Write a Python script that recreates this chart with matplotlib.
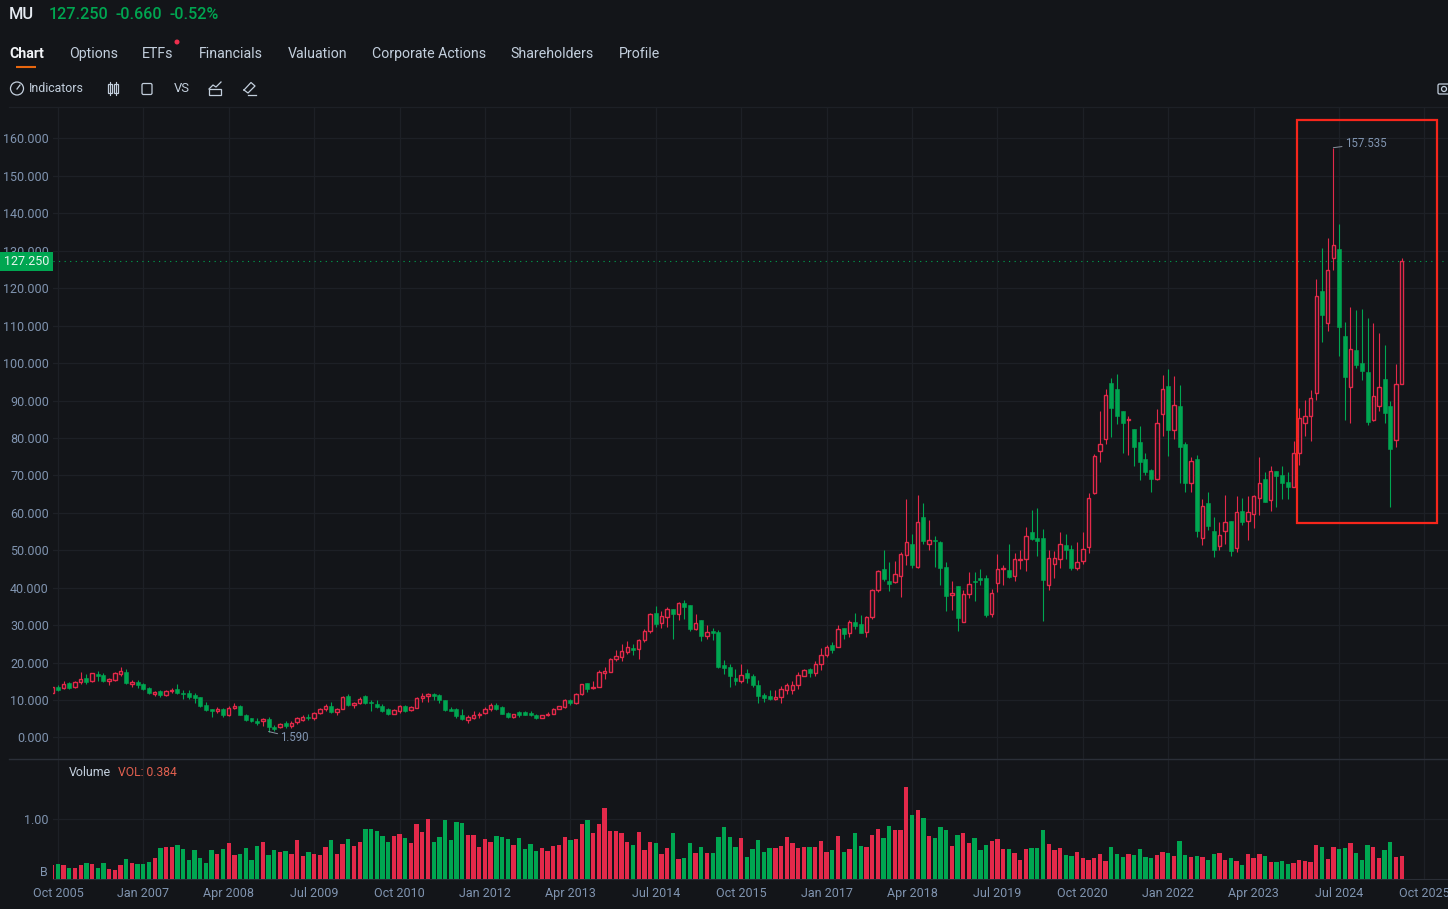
import matplotlib
matplotlib.use("Agg")
import matplotlib.pyplot as plt
import numpy as np
from matplotlib.patches import Rectangle, Circle, FancyBboxPatch

plt.rcParams['font.family'] = ['Roboto', 'DejaVu Sans']

# monthly candles, first one is Sep 2005
opens = [
    12.0,13.6,13.1,14.6,13.4,14.7,15.8,15.0,17.0,16.6,
    15.2,15.4,16.9,17.6,14.2,14.8,14.3,13.2,11.6,12.3,
    11.4,12.4,12.9,12.0,11.8,11.4,10.7,8.6,7.5,7.0,
    7.6,6.0,7.8,8.4,6.0,5.1,4.4,4.3,4.9,2.9,
    2.8,3.9,3.0,4.1,4.6,5.6,5.2,6.6,7.6,8.3,
    6.9,7.7,11.0,8.8,9.1,11.1,9.5,9.0,8.5,7.5,
    6.4,7.0,8.4,7.3,8.0,10.5,11.1,11.6,11.3,10.0,
    7.6,7.6,6.0,4.8,5.2,6.0,6.5,7.6,8.8,8.2,
    6.6,5.6,6.8,6.7,6.5,6.0,5.3,6.0,6.4,7.6,
    8.2,10.0,9.2,11.6,14.5,13.1,13.6,17.3,17.6,20.9,
    21.6,22.7,23.8,23.7,26.0,28.4,33.2,30.7,32.3,34.2,
    33.0,35.9,35.3,29.0,31.3,27.1,28.4,28.1,19.3,18.8,
    16.0,15.0,17.2,16.4,14.0,11.3,11.0,10.3,10.8,12.7,
    12.6,13.9,16.5,18.3,17.2,19.6,22.0,24.6,24.2,29.2,
    27.8,30.8,30.2,28.2,32.1,39.5,44.9,41.9,41.4,43.1,
    48.7,51.6,45.5,58.9,51.6,52.8,52.3,45.5,38.0,40.4,
    30.9,38.3,41.8,42.5,42.5,33.0,41.2,45.0,44.7,43.1,
    47.5,47.6,55.0,53.4,53.3,40.6,46.4,47.6,51.5,50.4,
    45.4,47.2,50.9,65.2,76.4,79.6,94.6,93.0,87.1,84.8,
    82.3,79.0,74.4,71.4,69.0,86.5,93.9,82.2,88.6,78.4,
    68.1,74.5,53.3,62.5,55.2,51.1,55.1,57.8,50.6,60.6,
    57.7,59.8,63.9,69.0,63.3,71.1,70.2,68.3,66.9,76.0,
    84.0,86.0,91.9,119.2,110.6,128.0,130.4,107.2,93.5,103.5,
    100.0,97.6,84.8,88.6,95.7,88.5,79.4,94.4]
closes = [
    13.4,12.8,14.4,13.2,14.8,15.6,14.7,17.1,16.4,15.1,
    15.7,17.3,17.8,14.5,14.8,14.0,13.0,11.9,12.2,11.4,
    12.3,12.8,11.9,11.5,10.7,10.6,8.3,7.3,7.2,7.7,
    5.9,7.9,8.4,6.0,4.7,4.4,4.0,4.9,2.8,2.2,
    3.7,3.1,4.0,5.1,5.4,5.2,6.5,7.6,8.3,6.8,
    7.7,10.8,8.7,9.2,10.3,9.2,9.1,8.2,7.0,6.2,
    7.3,8.3,7.0,8.2,10.6,11.1,11.5,11.2,10.0,7.3,
    7.1,5.8,4.9,5.6,6.0,6.3,7.6,8.6,7.7,6.3,
    5.5,6.2,6.0,6.1,6.0,5.2,6.0,6.4,7.6,8.4,
    10.0,9.2,11.6,14.2,13.0,13.6,17.4,17.8,21.0,21.8,
    23.0,24.1,23.5,26.0,28.5,33.0,30.3,32.5,34.2,33.0,
    35.9,34.8,29.0,30.6,27.0,28.3,28.0,18.7,18.5,16.4,
    15.0,16.7,15.8,14.1,11.0,10.6,10.4,10.8,12.9,14.0,
    14.0,16.6,18.0,17.2,19.7,22.1,24.3,23.3,29.1,27.6,
    30.8,29.7,28.0,32.1,39.4,44.4,42.3,41.1,43.7,48.9,
    52.3,46.0,57.6,52.4,52.8,52.4,45.3,37.8,38.7,31.8,
    38.2,41.0,41.4,42.0,32.6,38.7,45.1,45.4,42.8,47.6,
    47.8,53.9,53.0,52.4,42.0,48.0,48.0,51.6,50.0,45.4,
    47.0,50.4,64.0,75.1,78.3,91.5,88.0,86.0,84.0,85.0,
    77.5,73.6,70.8,69.0,84.0,93.0,82.2,88.8,77.7,68.1,
    73.8,55.2,61.8,56.4,50.0,54.1,57.6,49.9,60.2,57.6,
    60.3,64.4,68.1,62.9,71.3,69.9,67.9,66.8,76.1,85.3,
    85.8,90.7,117.8,112.9,124.9,131.5,109.7,96.2,103.7,99.6,
    97.8,84.2,91.2,93.6,86.8,77.0,94.4,127.25]
highs = [
    13.6,14.1,15.0,14.8,15.0,17.5,16.9,17.3,17.7,17.1,
    16.0,17.5,18.8,18.3,15.4,15.4,14.6,13.4,12.4,12.6,
    12.6,13.3,14.4,12.8,12.7,12.0,10.9,9.5,7.6,8.2,
    7.9,8.3,9.2,8.8,6.2,5.3,5.2,5.1,5.4,3.3,
    3.9,4.4,4.5,5.4,6.0,6.2,6.7,7.9,8.9,9.4,
    8.0,11.0,11.5,9.5,10.9,11.4,10.0,10.0,8.9,7.9,
    7.6,8.6,8.8,8.4,10.8,12.0,12.0,12.0,11.6,10.1,
    8.1,7.8,7.6,6.1,7.0,6.8,8.1,9.2,9.2,8.4,
    6.9,6.4,7.0,7.2,7.0,6.2,6.1,6.9,7.9,8.5,
    10.3,10.4,12.0,14.4,14.6,15.1,17.9,18.9,21.2,23.5,
    24.9,25.8,25.0,26.2,29.0,33.2,35.0,33.8,34.8,34.4,
    36.2,36.7,35.4,33.0,31.4,30.0,29.3,28.7,20.8,19.7,
    18.2,19.5,18.2,16.9,15.3,11.9,12.6,12.7,13.7,14.5,
    15.2,17.5,18.4,18.6,20.5,23.8,24.6,25.5,30.1,29.3,
    31.3,33.2,32.6,32.4,39.6,44.8,50.1,47.0,47.2,49.6,
    63.6,54.4,64.9,62.7,58.2,53.8,52.4,46.8,41.7,40.5,
    39.4,44.2,44.3,45.1,43.5,39.6,48.9,46.1,51.6,49.3,
    50.0,56.3,60.7,61.3,55.7,50.2,49.7,54.9,54.4,51.5,
    52.3,54.9,65.3,75.8,87.3,93.1,95.9,97.1,87.2,85.9,
    82.4,83.2,76.0,71.8,87.7,96.8,98.5,96.6,94.2,79.0,
    74.9,75.5,63.8,65.6,58.9,57.6,64.7,57.9,64.6,64.0,
    64.6,64.8,74.9,70.8,72.4,71.2,72.4,70.8,79.2,88.0,
    90.2,92.9,122.5,130.7,133.3,157.535,137.2,111.0,114.9,114.2,
    114.4,112.1,110.7,108.0,104.8,90.0,99.7,128.1]
lows = [
    11.9,12.3,12.9,13.0,13.3,14.4,14.2,14.9,15.0,14.7,
    13.9,15.0,16.5,14.2,13.4,13.1,12.7,11.7,11.0,10.9,
    11.1,11.9,11.7,10.2,10.3,9.3,8.1,7.1,5.5,6.6,
    5.5,5.7,7.6,6.0,4.3,4.2,3.4,3.2,1.59,1.8,
    2.5,2.6,2.6,3.7,4.4,4.7,4.6,6.4,7.2,6.6,
    5.9,7.6,8.5,7.9,9.0,9.0,7.2,8.0,6.9,6.0,
    6.2,6.5,6.9,7.0,7.9,9.6,9.4,10.0,9.3,7.2,
    7.0,5.1,4.8,3.8,5.0,5.1,6.3,7.2,7.4,6.2,
    5.3,5.1,5.4,5.9,5.7,5.0,5.2,5.7,6.2,7.5,
    8.0,8.8,9.0,11.3,12.2,13.0,13.5,15.5,17.4,20.5,
    20.4,22.2,21.9,21.0,25.6,27.9,29.6,29.3,29.6,26.2,
    31.5,31.6,28.5,28.7,25.7,26.2,26.0,18.5,17.0,13.4,
    13.9,14.6,14.5,13.5,9.2,9.4,10.0,10.0,9.3,11.6,
    11.5,13.0,16.3,16.1,16.4,18.1,21.4,22.5,24.1,26.2,
    26.8,29.0,27.9,26.8,31.7,38.8,41.7,39.0,41.2,37.4,
    46.0,45.2,45.3,51.8,50.0,45.5,40.7,33.8,34.0,28.4,
    30.8,37.2,36.5,40.7,32.2,32.2,38.8,40.6,42.6,41.8,
    45.0,44.4,52.8,48.4,31.1,39.3,42.5,45.4,47.7,44.8,
    44.8,46.4,49.3,65.1,73.6,78.3,80.2,83.8,76.0,75.5,
    72.4,68.7,70.0,65.5,68.8,80.4,75.3,79.7,68.1,65.6,
    65.6,53.5,51.3,55.5,48.3,50.2,51.8,48.4,49.5,56.7,
    52.7,56.0,59.3,62.8,60.4,61.6,63.7,63.7,66.8,72.9,
    80.4,79.1,90.2,105.6,108.6,124.9,102.0,84.7,84.0,98.8,
    95.4,83.4,84.6,87.2,83.9,61.5,77.6,94.3]
# volume in billions
volumes = [
    .239,.25,.233,.189,.189,.233,.272,.256,.194,.267,
    .172,.156,.233,.339,.272,.25,.25,.289,.361,.522,
    .533,.544,.567,.5,.328,.483,.356,.272,.483,.422,
    .506,.606,.411,.417,.517,.322,.556,.622,.406,.483,
    .45,.467,.428,.656,.394,.456,.422,.406,.533,.661,
    .422,.589,.667,.556,.622,.839,.833,.806,.728,.617,
    .728,.75,.689,.6,.922,.789,1.0,.628,.706,.989,
    .65,.956,.944,.739,.739,.539,.672,.617,.717,.711,
    .672,.578,.683,.506,.589,.472,.528,.478,.55,.572,
    .711,.656,.667,.917,.994,.772,.922,1.189,.806,.806,
    .767,.622,.572,.789,.494,.617,.6,.422,.528,.772,
    .333,.361,.611,.439,.544,.439,.433,.706,.867,.7,
    .539,.694,.372,.506,.65,.461,.528,.522,.561,.7,
    .611,.528,.539,.539,.539,.633,.45,.489,.728,.461,
    .506,.772,.561,.544,.733,.833,.694,.889,.828,.828,
    1.539,1.072,1.156,1.028,.728,.694,.872,.817,.561,.739,
    .772,.611,.683,.483,.567,.639,.672,.506,.506,.433,
    .322,.511,.517,.517,.822,.594,.494,.522,.406,.394,
    .456,.356,.328,.361,.422,.306,.544,.417,.372,.422,
    .4,.5,.367,.356,.406,.456,.433,.394,.644,.411,
    .367,.389,.372,.322,.422,.433,.322,.35,.3,.233,
    .422,.356,.417,.383,.283,.283,.306,.261,.267,.317,
    .3,.289,.572,.533,.339,.539,.5,.517,.6,.444,
    .322,.572,.533,.35,.489,.617,.378,.384]

price_ticks = [0, 10, 20, 30, 40, 50, 60, 70, 80, 90, 100, 110, 120, 130, 140, 150, 160]
date_ticks = [0, 15, 30, 45, 60, 75, 90, 105, 120, 135, 150, 165, 180, 195, 210, 225, 240]
date_labels = ['Oct 2005', 'Jan 2007', 'Apr 2008', 'Jul 2009', 'Oct 2010', 'Jan 2012',
               'Apr 2013', 'Jul 2014', 'Oct 2015', 'Jan 2017', 'Apr 2018', 'Jul 2019',
               'Oct 2020', 'Jan 2022', 'Apr 2023', 'Jul 2024', 'Oct 2025']
tabs = ['Chart', 'Options', 'ETFs', 'Financials', 'Valuation', 'Corporate Actions', 'Shareholders', 'Profile']
tab_x = [9.5, 68.7, 142, 199, 287.7, 372, 510.7, 618.7]

BG = '#131519'
GRID = '#1d2026'
RED = '#e3294a'
GREEN = '#00a651'
AXIS_TEXT = '#8094b0'
NAV_TEXT = '#c3cfdd'

W, H = 1448, 909
fig = plt.figure(figsize=(W / 100, H / 100), dpi=100, facecolor=BG)

def px_axes(left, top, right, bottom):
    return fig.add_axes([left / W, 1 - bottom / H, (right - left) / W, (bottom - top) / H], facecolor=BG)

ax = px_axes(53, 107, W, 758)
ax_vol = px_axes(53, 758, W, 879.3)

o, c, hi, lo = map(np.array, (opens, closes, highs, lows))
x = np.arange(len(o)) - 1
up = c >= o
xlim = (-0.86, 244.13)

# candles: up is hollow red, down is filled green
ax.vlines(x[up], lo[up], hi[up], color=RED, lw=0.8, zorder=2)
ax.vlines(x[~up], lo[~up], hi[~up], color=GREEN, lw=0.8, zorder=2)
ax.bar(x[up], (c - o)[up], bottom=o[up], width=0.6, facecolor=BG, edgecolor=RED, linewidth=1.0, zorder=3)
ax.bar(x[~up], (o - c)[~up], bottom=c[~up], width=0.7, facecolor=GREEN, edgecolor=GREEN, linewidth=0.4, zorder=3)
ax.axhline(closes[-1], color=GREEN, lw=0.8, ls=(0, (1, 4)), zorder=1)

ax.set_xlim(*xlim)
ax.set_ylim(-5.48, 168.4)
ax.set_yticks(price_ticks)
ax.set_yticklabels([f'{v:.3f}' for v in price_ticks])
ax.set_xticks(date_ticks)
ax.tick_params(axis='x', length=0, labelbottom=False)
ax.tick_params(axis='y', length=0, pad=3.0, labelsize=9.0, labelcolor=AXIS_TEXT)
ax.grid(True, color=GRID, lw=0.9)
ax.set_axisbelow(True)
for s in ax.spines.values():
    s.set_visible(False)

# high and low notes
i_hi = int(np.argmax(hi))
i_lo = int(np.argmin(lo))
ax.annotate('157.535', xy=(x[i_hi], hi[i_hi]), xytext=(8.2, 3), textcoords='offset points',
            color=AXIS_TEXT, fontsize=8.3, va='center',
            arrowprops=dict(arrowstyle='-', color='#8a93a0', lw=0.7, shrinkA=0, shrinkB=0))
ax.annotate('1.590', xy=(x[i_lo], lo[i_lo]), xytext=(8.5, -4.5), textcoords='offset points',
            color=AXIS_TEXT, fontsize=8.3, va='center',
            arrowprops=dict(arrowstyle='-', color='#8a93a0', lw=0.7, shrinkA=0, shrinkB=0))

# volume panel
ax_vol.bar(x, volumes, width=0.76, color=[RED if u else GREEN for u in up], zorder=3)
ax_vol.set_xlim(*xlim)
ax_vol.set_ylim(0, 2.028)
ax_vol.set_yticks([1.0])
ax_vol.set_yticklabels(['1.00'])
ax_vol.set_xticks(date_ticks)
ax_vol.set_xticklabels(date_labels)
ax_vol.tick_params(axis='x', length=0, pad=5.7, labelsize=9.0, labelcolor=AXIS_TEXT)
ax_vol.tick_params(axis='y', length=0, pad=3.0, labelsize=9.0, labelcolor=AXIS_TEXT)
ax_vol.grid(True, color=GRID, lw=0.9)
ax_vol.set_axisbelow(True)
for s in ax_vol.spines.values():
    s.set_visible(False)
ax_vol.spines['bottom'].set_visible(True)
ax_vol.spines['bottom'].set_color('#2a2e36')

# overlay in pixel coordinates for the app chrome
ui = fig.add_axes([0, 0, 1, 1], facecolor='none')
ui.set_xlim(0, W)
ui.set_ylim(H, 0)
ui.axis('off')

ui.text(9, 14.5, 'MU', color='#e6ebf2', fontsize=11.8, fontweight='medium', va='center')
ui.text(49, 14.5, '127.250', color=GREEN, fontsize=11.6, fontweight='medium', va='center')
ui.text(115, 14.5, '-0.660', color=GREEN, fontsize=11.6, fontweight='medium', va='center')
ui.text(169, 14.5, '-0.52%', color=GREEN, fontsize=11.6, fontweight='medium', va='center')

for name, tx in zip(tabs, tab_x):
    ui.text(tx, 54, name, va='center', fontsize=10.2, color='#f2f4f7' if name == 'Chart' else NAV_TEXT,
            fontweight='bold' if name == 'Chart' else 'normal')
ui.plot([16, 36], [66.5, 66.5], color='#e8670f', lw=1.5, solid_capstyle='butt')
ui.add_patch(Circle((177, 42), 2.5, color='#ee2f4d', lw=0))

# toolbar
ui.add_patch(Circle((17, 88.5), 6.5, fill=False, ec=NAV_TEXT, lw=0.9))
ui.plot([17, 20], [89, 85], color=NAV_TEXT, lw=0.9)
ui.text(29, 89, 'Indicators', color=NAV_TEXT, fontsize=8.9, va='center')
ui.add_patch(Rectangle((108, 84), 3.5, 9, fill=False, ec=NAV_TEXT, lw=0.9))
ui.add_patch(Rectangle((114, 84), 3.5, 9, fill=False, ec=NAV_TEXT, lw=0.9))
ui.plot([109.7, 109.7], [82, 95], color=NAV_TEXT, lw=0.8, zorder=1)
ui.plot([115.7, 115.7], [82, 95], color=NAV_TEXT, lw=0.8, zorder=1)
ui.add_patch(FancyBboxPatch((142, 83.5), 10, 11, boxstyle='round,pad=0,rounding_size=1.5', fill=False, ec=NAV_TEXT, lw=0.9))
ui.text(173.5, 89, 'VS', color=NAV_TEXT, fontsize=9.4, va='center')
ui.plot([209, 213, 216, 221], [89, 85, 87, 82], color=NAV_TEXT, lw=0.9)
ui.add_patch(Rectangle((209, 89), 12, 5.5, fill=False, ec=NAV_TEXT, lw=0.9))
ui.plot([244, 251, 255, 248, 244], [90, 82.5, 86, 93, 90], color=NAV_TEXT, lw=0.9)
ui.plot([248, 256], [94.5, 94.5], color=NAV_TEXT, lw=0.9)
ui.add_patch(FancyBboxPatch((1438, 84), 12, 10, boxstyle='round,pad=0,rounding_size=1.5', fill=False, ec=NAV_TEXT, lw=0.9))
ui.add_patch(Circle((1444, 89), 2.5, fill=False, ec=NAV_TEXT, lw=0.9))

# panel borders and labels
ui.plot([9, W], [107, 107], color='#1d2026', lw=0.9)
ui.plot([9, W], [758.5, 758.5], color='#2b2f38', lw=1)
ui.text(69, 772, 'Volume', color=NAV_TEXT, fontsize=8.9, va='center')
ui.text(118, 772, 'VOL: 0.384', color='#e2604f', fontsize=8.7, va='center')
ui.text(48, 873, 'B', color=AXIS_TEXT, fontsize=9.0, va='center', ha='right')

# last price tag and the red box
ui.add_patch(Rectangle((0, 252), 53, 19, color=GREEN, lw=0, zorder=5))
ui.text(26.5, 261.8, '127.250', color='#e8f5ee', fontsize=9.0, va='center', ha='center', zorder=6)
ui.add_patch(Rectangle((1297, 119.5), 140, 403.5, fill=False, ec='#f7261b', lw=1.6, zorder=6))

fig.savefig('out.png', dpi=100, facecolor=BG)
